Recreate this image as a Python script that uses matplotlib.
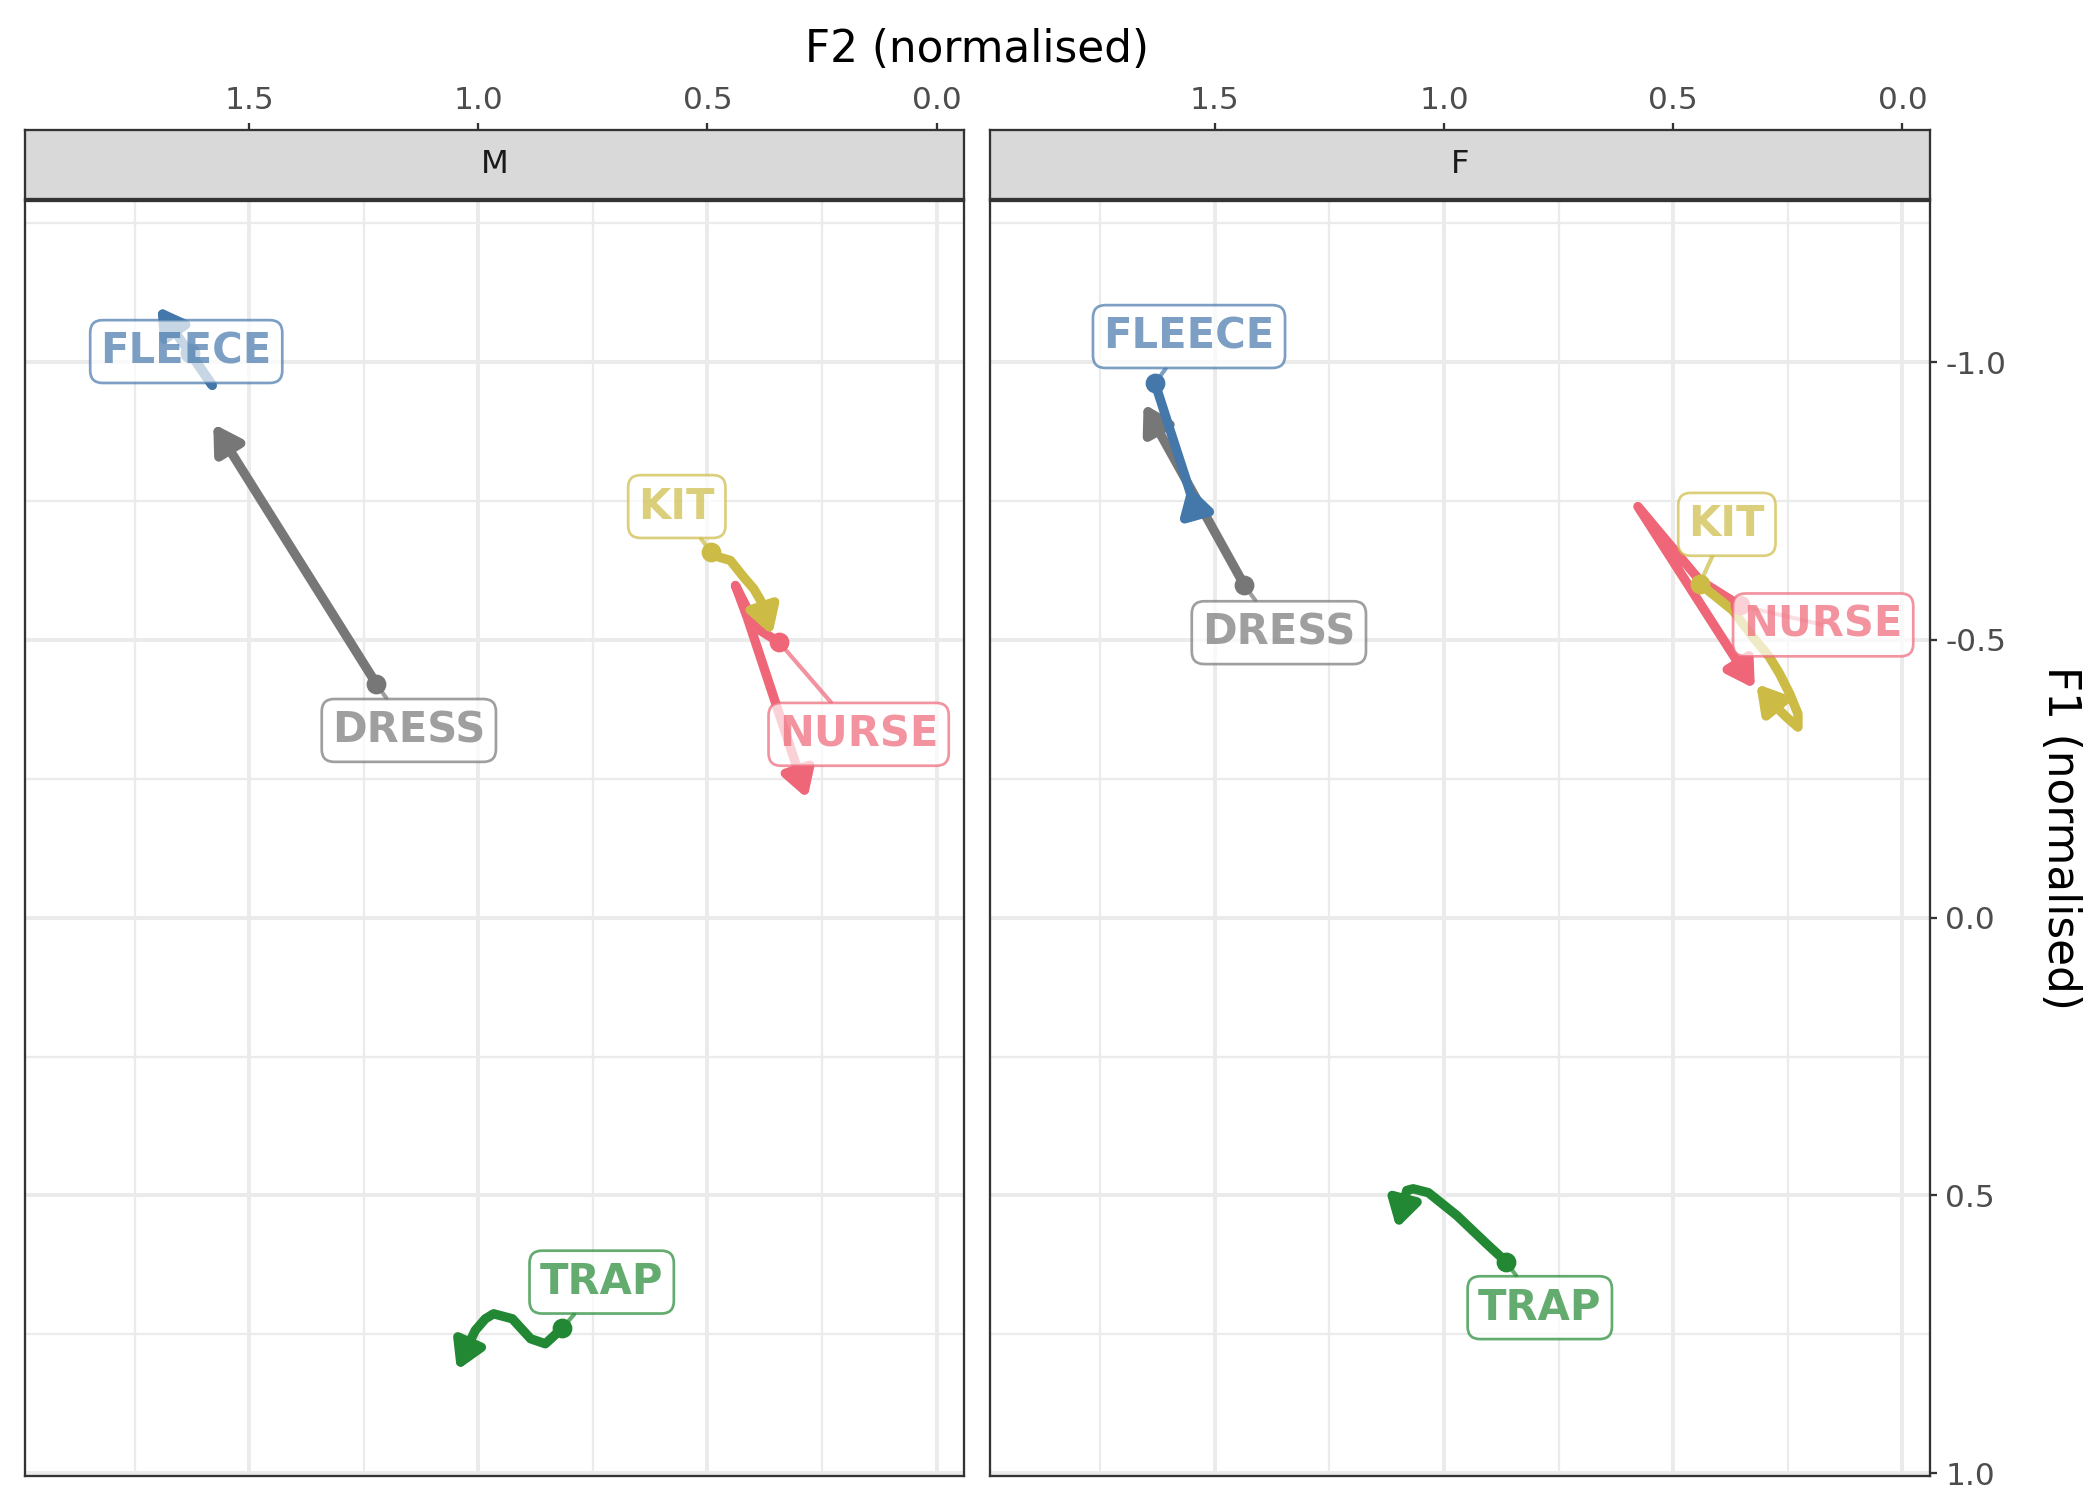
import matplotlib
matplotlib.use('Agg')
import matplotlib.pyplot as plt
from matplotlib.patches import FancyArrowPatch
from matplotlib.path import Path
from matplotlib.colors import to_rgba
from matplotlib.ticker import FormatStrFormatter
import numpy as np

plt.rcParams['font.family'] = 'DejaVu Sans'
plt.rcParams['axes.unicode_minus'] = False

# drawing order (later = on top)
words = ['DRESS', 'FLEECE', 'NURSE', 'KIT', 'TRAP']
colours = {'DRESS': '#777777', 'FLEECE': '#4477AA', 'NURSE': '#EE6677',
           'KIT': '#CCBB44', 'TRAP': '#228833'}

# M speaker tracks, first point = onset, last point = arrow tip
f2_m = {
    'DRESS': [1.223, 1.579],
    'FLEECE': [1.629, 1.581, 1.701],
    'NURSE': [0.344, 0.391, 0.439, 0.413, 0.282],
    'KIT': [0.493, 0.475, 0.450, 0.421, 0.399, 0.384, 0.359],
    'TRAP': [0.817, 0.854, 0.886, 0.926, 0.967, 0.985, 1.007, 1.021, 1.047],
}
f1_m = {
    'DRESS': [-0.421, -0.889],
    'FLEECE': [-1.017, -0.958, -1.100],
    'NURSE': [-0.496, -0.520, -0.598, -0.540, -0.214],
    'KIT': [-0.659, -0.649, -0.643, -0.613, -0.592, -0.571, -0.508],
    'TRAP': [0.739, 0.767, 0.758, 0.722, 0.713, 0.722, 0.743, 0.767, 0.815],
}

# F speaker tracks
f2_f = {
    'DRESS': [1.435, 1.655],
    'FLEECE': [1.630, 1.597, 1.564, 1.545, 1.557],
    'NURSE': [0.355, 0.442, 0.577, 0.322],
    'KIT': [0.442, 0.406, 0.370, 0.326, 0.290, 0.268, 0.246, 0.228, 0.228, 0.253, 0.286, 0.319],
    'TRAP': [0.865, 0.907, 0.972, 1.034, 1.067, 1.081, 1.103],
}
f1_f = {
    'DRESS': [-0.598, -0.925],
    'FLEECE': [-0.962, -0.877, -0.793, -0.743, -0.778],
    'NURSE': [-0.562, -0.607, -0.740, -0.412],
    'KIT': [-0.601, -0.577, -0.553, -0.505, -0.469, -0.439, -0.403, -0.367, -0.343, -0.361, -0.388, -0.421],
    'TRAP': [0.619, 0.587, 0.536, 0.495, 0.488, 0.491, 0.560],
}

# where the repelled labels ended up (layout only)
label_pos_m = {'FLEECE': (1.638, -1.019), 'DRESS': (1.152, -0.337), 'KIT': (0.567, -0.740),
               'NURSE': (0.170, -0.330), 'TRAP': (0.731, 0.656)}
label_pos_f = {'FLEECE': (1.556, -1.046), 'DRESS': (1.360, -0.513), 'KIT': (0.383, -0.708),
               'NURSE': (0.173, -0.527), 'TRAP': (0.791, 0.702)}

x_ticks = [0.0, 0.5, 1.0, 1.5]
x_minor = [0.25, 0.75, 1.25, 1.75]
y_ticks = [-1.0, -0.5, 0.0, 0.5, 1.0]
y_minor = [-1.25, -0.75, -0.25, 0.25, 0.75]
xlim = (1.99, -0.06)
ylim = (1.005, -1.29)

W, H = 2100, 1500
fig = plt.figure(figsize=(14, 10), dpi=150)

def px_box(x0, x1, top, bottom):
    return [x0 / W, 1 - bottom / H, (x1 - x0) / W, (bottom - top) / H]

def draw_panel(ax, f2, f1, label_pos):
    ax.set_xlim(*xlim)
    ax.set_ylim(*ylim)
    ax.set_xticks(x_ticks)
    ax.set_xticks(x_minor, minor=True)
    ax.set_yticks(y_ticks)
    ax.set_yticks(y_minor, minor=True)
    ax.grid(which='major', color='#EBEBEB', lw=1.9)
    ax.grid(which='minor', color='#EBEBEB', lw=1.1)
    ax.set_axisbelow(True)
    ax.tick_params(which='both', length=0, labelbottom=False, labelleft=False,
                   labeltop=False, labelright=False)
    for s in ax.spines.values():
        s.set_color('#333333')
        s.set_linewidth(1.1)

    for w in words:
        c = colours[w]
        verts = np.column_stack([f2[w], f1[w]])
        arr = FancyArrowPatch(path=Path(verts),
                              arrowstyle='-|>,head_length=10.5,head_width=6.2',
                              mutation_scale=1, color=c, lw=4.5,
                              capstyle='round', joinstyle='round',
                              transform=ax.transData, zorder=3)
        ax.add_patch(arr)
    for w in words:
        ax.plot(f2[w][0], f1[w][0], 'o', color=colours[w], ms=8.5, zorder=4)
    for w in words:
        c = colours[w]
        ax.annotate(w, xy=(f2[w][0], f1[w][0]), xytext=label_pos[w],
                    ha='center', va='center', fontsize=20, fontweight='bold',
                    color=to_rgba(c, 0.7), zorder=6,
                    bbox=dict(boxstyle='round,pad=0.25,rounding_size=0.3',
                              fc=(1, 1, 1, 0.7), ec=to_rgba(c, 0.7), lw=1.3),
                    arrowprops=dict(arrowstyle='-', color=to_rgba(c, 0.7), lw=2,
                                    shrinkA=0, shrinkB=0))

def draw_strip(ax, name):
    ax.set_facecolor('#D9D9D9')
    ax.set_xlim(*xlim)
    ax.set_ylim(0, 1)
    ax.set_yticks([])
    ax.xaxis.tick_top()
    ax.set_xticks(x_ticks)
    ax.xaxis.set_major_formatter(FormatStrFormatter('%.1f'))
    ax.tick_params(axis='x', length=3.4, width=1.1, color='#333333',
                   labelsize=15, labelcolor='#4D4D4D', pad=4)
    for s in ax.spines.values():
        s.set_color('#333333')
        s.set_linewidth(1.1)
    ax.text(0.5, 0.5, name, transform=ax.transAxes, ha='center', va='center',
            fontsize=15.5, color='#1A1A1A')

ax_m = fig.add_axes(px_box(25, 964, 201, 1476))
ax_f = fig.add_axes(px_box(990, 1930, 201, 1476))
st_m = fig.add_axes(px_box(25, 964, 130, 199))
st_f = fig.add_axes(px_box(990, 1930, 130, 199))

draw_panel(ax_m, f2_m, f1_m, label_pos_m)
draw_panel(ax_f, f2_f, f1_f, label_pos_f)
draw_strip(st_m, 'M')
draw_strip(st_f, 'F')

# y axis on the right of the F panel only
ax_f.yaxis.tick_right()
ax_f.yaxis.set_major_formatter(FormatStrFormatter('%.1f'))
ax_f.tick_params(axis='y', which='major', length=3.4, width=1.1, color='#333333',
                 labelright=True, labelsize=15, labelcolor='#4D4D4D', pad=4)

fig.text(977 / W, 1 - 50 / H, 'F2 (normalised)', ha='center', va='center', fontsize=21)
fig.text(2060 / W, 1 - 838 / H, 'F1 (normalised)', ha='center', va='center',
         fontsize=21, rotation=-90)

fig.savefig('out.png', dpi=150)
